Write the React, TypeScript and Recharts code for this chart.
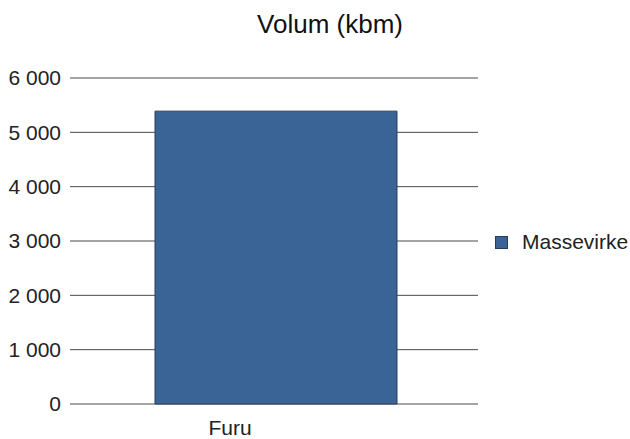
import React from "react";
import { BarChart, Bar, XAxis, YAxis, CartesianGrid, Legend } from "recharts";

const categories = ["Furu"];
const massevirke = [5390];
const yTicks = [0, 1000, 2000, 3000, 4000, 5000, 6000];
const title = "Volum (kbm)";
const seriesName = "Massevirke";

const data = categories.map((c, i) => ({ name: c, massevirke: massevirke[i] }));

const FONT = "'Liberation Sans', Arial, sans-serif";
const FILL = "#3a6496";
const STROKE = "#2a3d58";

const fmt = (v: number) => {
  const s = String(v);
  return s.length > 3 ? s.slice(0, s.length - 3) + " " + s.slice(-3) : s;
};

const LegendContent = () => (
  <div style={{ display: "flex", alignItems: "center", paddingLeft: 17, fontFamily: FONT, fontSize: 21, color: "#222", whiteSpace: "nowrap" }}>
    <span style={{ display: "inline-block", flexShrink: 0, width: 13, height: 13, background: FILL, border: `1px solid ${STROKE}`, boxSizing: "border-box", marginRight: 14 }} />
    <span>{seriesName}</span>
  </div>
);

export default function App() {
  return (
    <div style={{ position: "absolute", left: 0, top: 0, width: 630, height: 439, background: "#fff" }}>
      <div
        style={{
          position: "absolute",
          top: 11,
          left: 0,
          width: 660,
          textAlign: "center",
          fontFamily: FONT,
          fontSize: 26,
          lineHeight: 1,
          color: "#111",
          zIndex: 2,
        }}
      >
        {title}
      </div>
      <BarChart width={630} height={439} data={data} margin={{ top: 78, right: 17, bottom: 0, left: 0 }}>
        <CartesianGrid horizontal vertical={false} stroke="#4a4a4a" strokeWidth={1} />
        <XAxis
          dataKey="name"
          axisLine={false}
          tickLine={false}
          tickSize={0}
          tickMargin={16}
          height={35}
          padding={{ left: 4, right: 0 }}
          tick={{ fontFamily: FONT, fontSize: 21, fill: "#222", dx: -46 }}
        />
        <YAxis
          domain={[0, 6000]}
          ticks={yTicks}
          interval={0}
          axisLine={false}
          tickLine={false}
          tickSize={0}
          tickMargin={9}
          width={70}
          tickFormatter={fmt}
          tick={{ fontFamily: FONT, fontSize: 21, fill: "#222" }}
        />
        <Legend
          layout="vertical"
          align="right"
          verticalAlign="middle"
          content={<LegendContent />}
          wrapperStyle={{ width: 135, top: 230 }}
        />
        <Bar dataKey="massevirke" name={seriesName} fill={FILL} stroke={STROKE} strokeWidth={1} barSize={242} isAnimationActive={false} />
      </BarChart>
    </div>
  );
}
